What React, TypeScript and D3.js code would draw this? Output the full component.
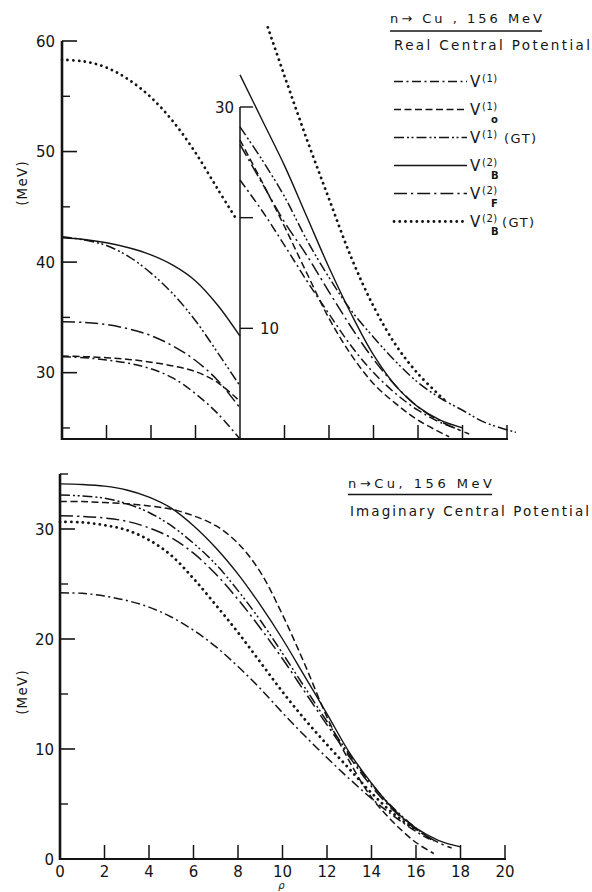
import React from 'react';
import * as d3 from 'd3';

type P = [number, number];

// ---------- tick values ----------
const xTickValues = [0, 2, 4, 6, 8, 10, 12, 14, 16, 18, 20];
const topOuterMajor = [60, 50, 40, 30];
const topOuterMinor = [55, 45, 35, 25];
const topInnerTicks = [30, 20, 10];
const topInnerLabels = [30, 10];
const botMajor = [0, 10, 20, 30];
const botMinor = [5, 15, 25, 35];

// ---------- top panel, left part (outer scale 24..60 MeV), rho 0..8 ----------
const topLeftV1: P[] = [[0, 31.45], [1, 31.35], [2, 31.15], [3, 30.85], [4, 30.35], [5, 29.5], [6, 28.1], [7, 26.3], [8, 24.0]];
const topLeftV1o: P[] = [[0, 31.5], [1, 31.45], [2, 31.35], [3, 31.2], [4, 30.95], [5, 30.6], [6, 30.1], [7, 29.1], [8, 27.4]];
const topLeftV1GT: P[] = [[0, 42.3], [1, 42.0], [2, 41.5], [3, 40.5], [4, 39.0], [5, 37.1], [6, 34.7], [7, 31.8], [8, 28.8]];
const topLeftV2B: P[] = [[0, 42.2], [1, 42.05], [2, 41.75], [3, 41.3], [4, 40.65], [5, 39.7], [6, 38.3], [7, 36.1], [8, 33.3]];
const topLeftV2F: P[] = [[0, 34.6], [1, 34.55], [2, 34.35], [3, 33.95], [4, 33.35], [5, 32.4], [6, 31.1], [7, 29.3], [8, 26.8]];
const topLeftV2BGT: P[] = [[0, 58.3], [1, 58.15], [2, 57.6], [3, 56.5], [4, 54.9], [5, 52.7], [6, 49.9], [7, 46.6], [7.8, 44.0]];

// ---------- top panel, right part (inner scale 0..30 MeV), rho 8..20 ----------
const topRightV1: P[] = [[8, 23.4], [9, 20.6], [10, 17.5], [11, 14.3], [12, 11.3], [13, 8.4], [14, 6.0], [15, 4.1], [16, 2.6], [17, 1.5], [17.9, 0.8]];
const topRightV1o: P[] = [[8, 27.0], [9, 23.2], [10, 19.2], [11, 15.0], [12, 10.9], [13, 7.6], [14, 5.0], [15, 3.2], [16, 1.7], [17.4, 0.2]];
const topRightV1GT: P[] = [[8, 28.2], [9, 25.2], [10, 21.9], [11, 18.0], [12, 14.6], [13, 11.6], [14, 9.2], [15, 7.0], [16, 5.1], [17, 3.7], [18, 2.6], [19, 1.5], [20.4, 0.6]];
const topRightV2B: P[] = [[8, 32.9], [9, 28.8], [10, 24.7], [11, 20.1], [12, 15.5], [13, 11.3], [14, 7.6], [15, 4.8], [16, 2.9], [17, 1.7], [18, 1.0]];
const topRightV2F: P[] = [[8, 26.6], [9, 23.1], [10, 19.6], [11, 16.6], [12, 13.3], [13, 10.1], [14, 7.2], [15, 4.8], [16, 2.9], [17, 1.6], [18.3, 0.45]];
const topRightV2BGT: P[] = [[9.25, 37.2], [10, 32.8], [11, 27.1], [12, 21.7], [13, 16.4], [14, 12.0], [15, 8.5], [16, 5.9], [17.2, 3.5]];

// ---------- bottom panel (imaginary central potential) ----------
const botV1: P[] = [[0, 24.2], [1, 24.15], [2, 23.9], [3, 23.5], [4, 22.9], [5, 22.0], [6, 20.8], [7, 19.3], [8, 17.5], [9, 15.5], [10, 13.3], [11, 11.2], [12, 9.2], [13, 7.3], [14, 5.5], [15, 3.9], [16, 2.5], [16.6, 1.8]];
const botV1o: P[] = [[0, 32.5], [1, 32.5], [2, 32.4], [3, 32.3], [4, 32.1], [5, 31.8], [6, 31.2], [7, 30.3], [8, 28.7], [9, 26.1], [10, 22.2], [11, 17.7], [12, 12.9], [13, 8.9], [14, 5.6], [15, 3.3], [16, 1.5], [16.8, 0.5]];
const botV1GT: P[] = [[0, 33.1], [1, 33.0], [2, 32.8], [3, 32.3], [4, 31.5], [5, 30.3], [6, 28.7], [7, 26.8], [8, 24.4], [9, 21.7], [10, 18.7], [11, 15.6], [12, 12.5], [13, 9.5], [14, 6.8], [15, 4.6], [16, 2.8], [16.8, 1.6]];
const botV2B: P[] = [[0, 34.1], [1, 34.05], [2, 33.9], [3, 33.55], [4, 32.9], [5, 31.9], [6, 30.3], [7, 28.3], [8, 25.9], [9, 23.1], [10, 20.0], [11, 16.6], [12, 13.2], [13, 9.7], [14, 6.9], [15, 4.5], [16, 2.8], [17, 1.7], [18, 1.1]];
const botV2F: P[] = [[0, 31.2], [1, 31.15], [2, 31.0], [3, 30.7], [4, 30.1], [5, 29.2], [6, 27.8], [7, 25.9], [8, 23.6], [9, 21.0], [10, 18.2], [11, 15.2], [12, 12.2], [13, 9.3], [14, 6.6], [15, 4.4], [16, 2.7], [17, 1.5], [17.6, 1.0]];
const botV2BGT: P[] = [[0, 30.65], [1, 30.6], [2, 30.35], [3, 29.9], [4, 29.0], [5, 27.6], [6, 25.5], [7, 23.1], [8, 20.6], [9, 17.9], [10, 15.2], [11, 12.7], [12, 10.4], [13, 8.2], [14, 6.0], [15, 4.1], [16, 2.6]];

// ---------- legend ----------
const seriesKeys = ['V1', 'V1o', 'V1GT', 'V2B', 'V2F', 'V2BGT'];
const legendSup = ['(1)', '(1)', '(1)', '(2)', '(2)', '(2)'];
const legendSub = ['', 'o', '', 'B', 'F', 'B'];
const legendTail = ['', '', '(GT)', '', '', '(GT)'];

const topTitle = 'n→ Cu , 156 MeV';
const topSubtitle = 'Real Central Potential';
const botTitle = 'n→Cu, 156 MeV';
const botSubtitle = 'Imaginary Central Potential';
const yLabel = '(MeV)';
const xLabel = 'ρ';

const FONT = "'DejaVu Sans', 'Liberation Sans', sans-serif";
const INK = '#141414';

const styleOf: Record<string, { dash?: string; w: number; cap: 'butt' | 'round' }> = {
  V1: { dash: '9,3.5,2,3.5', w: 1.5, cap: 'butt' },
  V1o: { dash: '7,3.5', w: 1.5, cap: 'butt' },
  V1GT: { dash: '10,3,2,2.5,2,3', w: 1.5, cap: 'butt' },
  V2B: { w: 1.4, cap: 'butt' },
  V2F: { dash: '13,4,2.2,4', w: 1.5, cap: 'butt' },
  V2BGT: { dash: '0.1,5.6', w: 2.8, cap: 'round' },
};

export default function App() {
  const W = 592, H = 892;
  const xTop = d3.scaleLinear().domain([0, 20]).range([62, 507]);
  const yOuter = d3.scaleLinear().domain([24, 60]).range([439, 41]);
  const yInner = d3.scaleLinear().domain([0, 30]).range([439, 107]);
  const xBot = d3.scaleLinear().domain([0, 20]).range([60, 505]);
  const yBot = d3.scaleLinear().domain([0, 35]).range([859, 474]);

  const mk = (xs: any, ys: any) =>
    d3.line<P>().x(d => xs(d[0])).y(d => ys(d[1])).curve(d3.curveCatmullRom.alpha(0.5));
  const lineTL = mk(xTop, yOuter);
  const lineTR = mk(xTop, yInner);
  const lineB = mk(xBot, yBot);

  const topLeft: Record<string, P[]> = { V1: topLeftV1, V1o: topLeftV1o, V1GT: topLeftV1GT, V2B: topLeftV2B, V2F: topLeftV2F, V2BGT: topLeftV2BGT };
  const topRight: Record<string, P[]> = { V1: topRightV1, V1o: topRightV1o, V1GT: topRightV1GT, V2B: topRightV2B, V2F: topRightV2F, V2BGT: topRightV2BGT };
  const bottom: Record<string, P[]> = { V1: botV1, V1o: botV1o, V1GT: botV1GT, V2B: botV2B, V2F: botV2F, V2BGT: botV2BGT };

  const pathEl = (k: string, d: string | null, key: string) => {
    const s = styleOf[k];
    return (
      <path key={key} d={d || ''} fill="none" stroke={INK} strokeWidth={s.w}
        strokeDasharray={s.dash} strokeLinecap={s.cap} strokeLinejoin="round" />
    );
  };

  const tickFont = 15;

  return (
    <svg width={W} height={H} viewBox={`0 0 ${W} ${H}`}
      style={{ position: 'absolute', left: 0, top: 0, background: '#fff' }}
      fontFamily={FONT}>
      <rect x={0} y={0} width={W} height={H} fill="#fff" />

      {/* ===== TOP PANEL ===== */}
      <line x1={xTop(0)} x2={xTop(0)} y1={yOuter(60)} y2={yOuter(24) + 1} stroke={INK} strokeWidth={2.6} />
      {topOuterMajor.map(v => (
        <g key={'tom' + v}>
          <line x1={xTop(0)} x2={xTop(0) + 15} y1={yOuter(v)} y2={yOuter(v)} stroke={INK} strokeWidth={1.6} />
          <text x={xTop(0) - 7} y={yOuter(v) + 5.5} fontSize={tickFont} textAnchor="end" fill={INK}>{v}</text>
        </g>
      ))}
      {topOuterMinor.map(v => (
        <line key={'tomi' + v} x1={xTop(0)} x2={xTop(0) + 8} y1={yOuter(v)} y2={yOuter(v)} stroke={INK} strokeWidth={1.4} />
      ))}
      <line x1={xTop(0) - 1} x2={xTop(20) + 1} y1={yOuter(24)} y2={yOuter(24)} stroke={INK} strokeWidth={2.2} />
      {xTickValues.filter(v => v !== 0 && v !== 8).map(v => (
        <line key={'txt' + v} x1={xTop(v)} x2={xTop(v)} y1={yOuter(24)} y2={yOuter(24) - 14} stroke={INK} strokeWidth={1.5} />
      ))}
      <line x1={xTop(8)} x2={xTop(8)} y1={yInner(30)} y2={yInner(0)} stroke={INK} strokeWidth={1.5} />
      {topInnerTicks.map(v => (
        <line key={'tit' + v} x1={xTop(8)} x2={xTop(8) + 13} y1={yInner(v)} y2={yInner(v)} stroke={INK} strokeWidth={1.4} />
      ))}
      {topInnerLabels.map(v => (
        <text key={'til' + v} x={v === 30 ? xTop(8) - 6 : xTop(8) + 20} y={yInner(v) + 5.5}
          fontSize={tickFont} textAnchor={v === 30 ? 'end' : 'start'} fill={INK}>{v}</text>
      ))}
      <text transform={`translate(27,${(yOuter(60) + yOuter(24)) / 2 - 57}) rotate(-90)`} fontSize={13.5}
        textAnchor="middle" letterSpacing={1.2} fill={INK}>{yLabel}</text>

      {seriesKeys.map(k => pathEl(k, lineTL(topLeft[k]), 'tl' + k))}
      {seriesKeys.map(k => pathEl(k, lineTR(topRight[k]), 'tr' + k))}

      <text x={390} y={23} fontSize={13} textLength={152} lengthAdjust="spacing" fill={INK}>{topTitle}</text>
      <line x1={390} x2={542} y1={31} y2={31} stroke={INK} strokeWidth={1.5} />
      <text x={394} y={49.5} fontSize={13.5} textLength={196} lengthAdjust="spacing" fill={INK}>{topSubtitle}</text>
      {seriesKeys.map((k, i) => {
        const y0 = 81.5 + i * 28;
        const s = styleOf[k];
        return (
          <g key={'lg' + k}>
            <line x1={394} x2={467} y1={y0} y2={y0} stroke={INK} strokeWidth={s.w}
              strokeDasharray={s.dash} strokeLinecap={s.cap} />
            <text x={470} y={y0 + 5.5} fontSize={15} fill={INK}>V</text>
            <text x={482} y={y0 + 0.5} fontSize={10} fill={INK} letterSpacing={0.5}>{legendSup[i]}</text>
            {legendSub[i] && (
              <text x={491} y={y0 + 13.5} fontSize={10} fontWeight="bold" fill={INK}>{legendSub[i]}</text>
            )}
            {legendTail[i] && (
              <text x={i === 2 ? 504 : 502} y={y0 + 5.5} fontSize={13} letterSpacing={1.5} fill={INK}>{legendTail[i]}</text>
            )}
          </g>
        );
      })}

      {/* ===== BOTTOM PANEL ===== */}
      <line x1={xBot(0)} x2={xBot(0)} y1={yBot(35)} y2={yBot(0) + 1} stroke={INK} strokeWidth={2.6} />
      {botMajor.map(v => (
        <g key={'bm' + v}>
          {v !== 0 && <line x1={xBot(0)} x2={xBot(0) + 15} y1={yBot(v)} y2={yBot(v)} stroke={INK} strokeWidth={1.6} />}
          <text x={xBot(0) - 6} y={yBot(v) + 5.5} fontSize={tickFont} textAnchor="end" fill={INK}>{v}</text>
        </g>
      ))}
      {botMinor.map(v => (
        <line key={'bmi' + v} x1={xBot(0)} x2={xBot(0) + 8} y1={yBot(v)} y2={yBot(v)} stroke={INK} strokeWidth={1.4} />
      ))}
      <line x1={xBot(0) - 1} x2={xBot(20) + 1} y1={yBot(0)} y2={yBot(0)} stroke={INK} strokeWidth={2.2} />
      {xTickValues.filter(v => v !== 0).map(v => (
        <line key={'bxt' + v} x1={xBot(v)} x2={xBot(v)} y1={yBot(0)} y2={yBot(0) - 14} stroke={INK} strokeWidth={1.5} />
      ))}
      {xTickValues.map(v => (
        <text key={'bxl' + v} x={xBot(v)} y={876.5} fontSize={tickFont} textAnchor="middle" fill={INK}>{v}</text>
      ))}
      <text x={xBot(10) - 1} y={889} fontSize={10} fontStyle="italic" textAnchor="middle" fill={INK}>{xLabel}</text>
      <text transform={`translate(27,${692}) rotate(-90)`} fontSize={13.5}
        textAnchor="middle" letterSpacing={1.2} fill={INK}>{yLabel}</text>

      {seriesKeys.map(k => pathEl(k, lineB(bottom[k]), 'b' + k))}

      <text x={348} y={488} fontSize={13} textLength={144} lengthAdjust="spacing" fill={INK}>{botTitle}</text>
      <line x1={348} x2={492} y1={494.5} y2={494.5} stroke={INK} strokeWidth={1.5} />
      <text x={350} y={516} fontSize={13.5} textLength={239} lengthAdjust="spacing" fill={INK}>{botSubtitle}</text>
    </svg>
  );
}
